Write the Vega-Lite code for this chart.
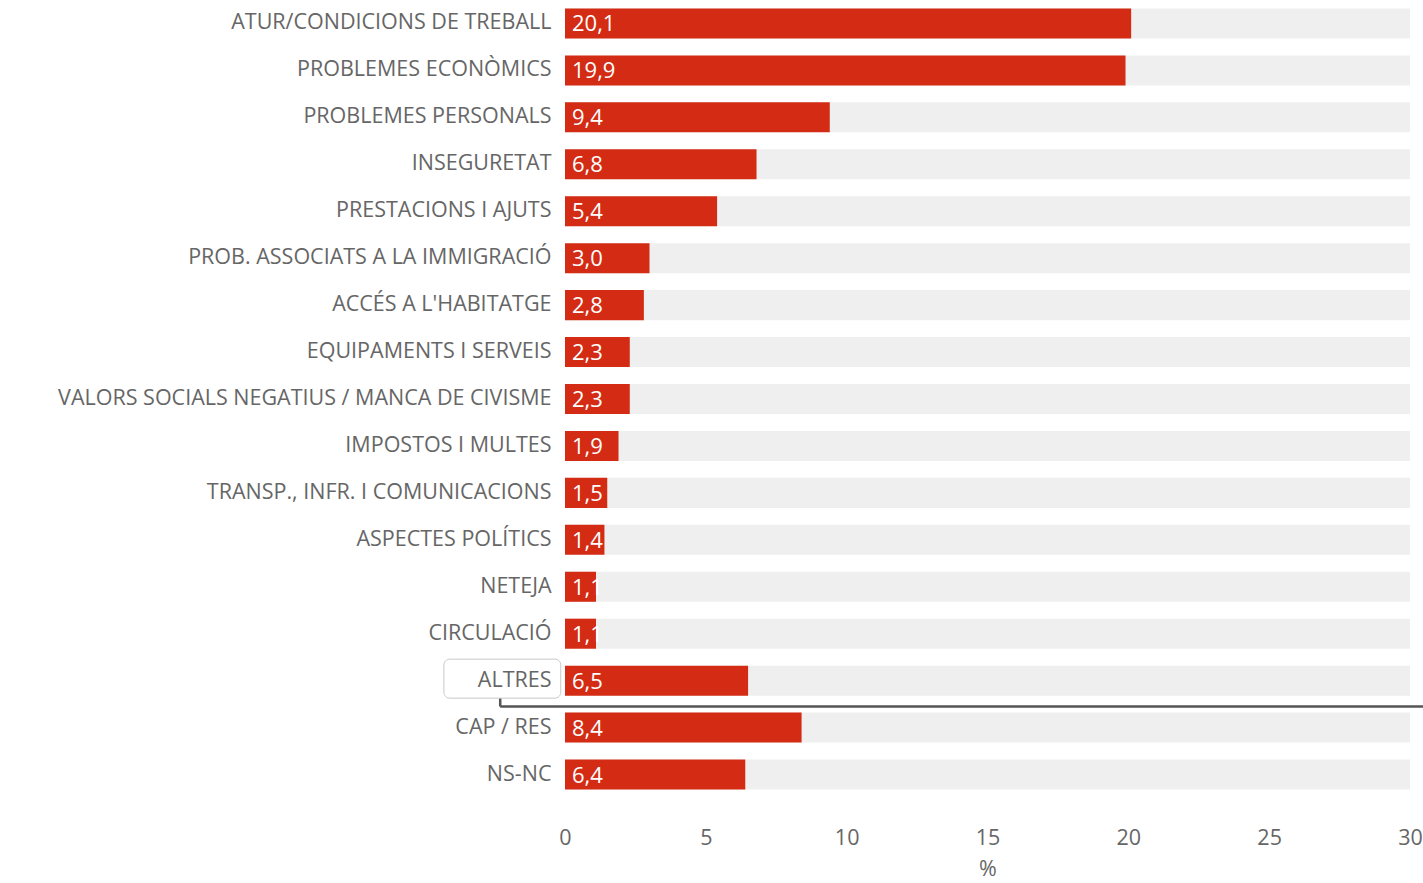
{
  "$schema": "https://vega.github.io/schema/vega-lite/v6.json",
  "width": 845,
  "height": 798,
  "autosize": "none",
  "padding": {"left": 565, "top": 0, "right": 13, "bottom": 85},
  "background": "white",
  "config": {
    "view": {"stroke": null},
    "font": "Open Sans",
    "locale": {"number": {"decimal": ",", "thousands": ".", "grouping": [3], "currency": ["", " €"]}}
  },
  "data": {
    "values": [
      {"categoria": "ATUR/CONDICIONS DE TREBALL", "valor": 20.1},
      {"categoria": "PROBLEMES ECONÒMICS", "valor": 19.9},
      {"categoria": "PROBLEMES PERSONALS", "valor": 9.4},
      {"categoria": "INSEGURETAT", "valor": 6.8},
      {"categoria": "PRESTACIONS I AJUTS", "valor": 5.4},
      {"categoria": "PROB. ASSOCIATS A LA IMMIGRACIÓ", "valor": 3.0},
      {"categoria": "ACCÉS A L'HABITATGE", "valor": 2.8},
      {"categoria": "EQUIPAMENTS I SERVEIS", "valor": 2.3},
      {"categoria": "VALORS SOCIALS NEGATIUS / MANCA DE CIVISME", "valor": 2.3},
      {"categoria": "IMPOSTOS I MULTES", "valor": 1.9},
      {"categoria": "TRANSP., INFR. I COMUNICACIONS", "valor": 1.5},
      {"categoria": "ASPECTES POLÍTICS", "valor": 1.4},
      {"categoria": "NETEJA", "valor": 1.1},
      {"categoria": "CIRCULACIÓ", "valor": 1.1},
      {"categoria": "ALTRES", "valor": 6.5},
      {"categoria": "CAP / RES", "valor": 8.4},
      {"categoria": "NS-NC", "valor": 6.4}
    ]
  },
  "encoding": {
    "y": {
      "field": "categoria",
      "type": "nominal",
      "sort": null,
      "scale": {"paddingInner": 0.36, "paddingOuter": 0.18},
      "axis": {
        "title": null,
        "domain": false,
        "ticks": false,
        "labelFontSize": 21.5,
        "labelColor": "#666666",
        "labelPadding": 14,
        "labelLimit": 700
      }
    }
  },
  "layer": [
    {
      "mark": {"type": "bar", "color": "#efefef"},
      "encoding": {
        "x": {"datum": 30, "type": "quantitative", "scale": {"domain": [0, 30]},
          "axis": {
            "title": "%",
            "values": [0, 5, 10, 15, 20, 25, 30],
            "grid": false,
            "domain": false,
            "ticks": false,
            "labelFlush": false,
            "labelFontSize": 21.5,
            "labelColor": "#666666",
            "labelPadding": 29,
            "titleFontSize": 21.5,
            "titleFontWeight": "normal",
            "titleColor": "#666666",
            "titlePadding": 10
          }
        }
      }
    },
    {
      "mark": {"type": "bar", "color": "#d42c14"},
      "encoding": {"x": {"field": "valor", "type": "quantitative"}}
    },
    {
      "mark": {"type": "text", "align": "left", "baseline": "middle", "dx": 7, "dy": 1, "color": "white", "fontSize": 22},
      "encoding": {
        "x": {"datum": 0, "type": "quantitative"},
        "text": {"field": "valor", "type": "quantitative", "format": ".1f"}
      }
    },
    {
      "data": {"values": [{}]},
      "mark": {"type": "rule", "color": "#555555", "strokeWidth": 2.5, "yOffset": -6},
      "encoding": {
        "x": {"datum": -2.3, "type": "quantitative"},
        "x2": {"datum": 30.5},
        "y": {"datum": "CAP / RES", "bandPosition": 0}
      }
    },
    {
      "data": {"values": [{}]},
      "mark": {"type": "rule", "color": "#555555", "strokeWidth": 2.5, "y2Offset": -6, "yOffset": 2.5},
      "encoding": {
        "x": {"datum": -2.3, "type": "quantitative"},
        "y": {"datum": "ALTRES", "bandPosition": 1},
        "y2": {"datum": "CAP / RES", "bandPosition": 0}
      }
    },
    {
      "data": {"values": [{}]},
      "mark": {"type": "rect", "fill": "white", "fillOpacity": 0, "stroke": "#c8c8c8", "strokeWidth": 1, "cornerRadius": 6, "yOffset": -6.5, "y2Offset": 2.5},
      "encoding": {
        "x": {"datum": -4.3, "type": "quantitative"},
        "x2": {"datum": -0.15},
        "y": {"datum": "ALTRES", "bandPosition": 0},
        "y2": {"datum": "ALTRES", "bandPosition": 1}
      }
    }
  ]
}
